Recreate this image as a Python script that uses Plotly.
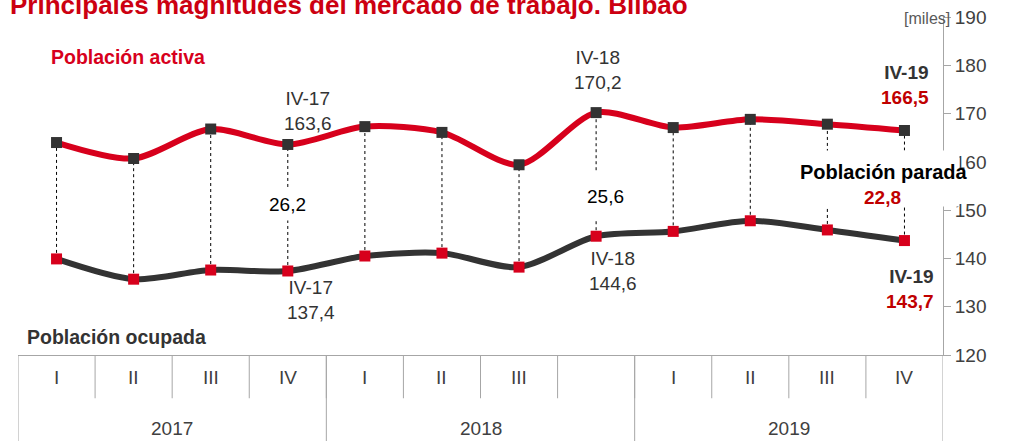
import plotly.graph_objects as go

# datos (miles de personas)
quarters = ["I", "II", "III", "IV", "I", "II", "III", "", "I", "II", "III", "IV"]
years = ["2017", "2018", "2019"]
activa = [164.0, 160.7, 166.8, 163.6, 167.3, 166.1, 159.4, 170.2, 167.1, 168.8, 167.8, 166.5]
ocupada = [139.9, 135.7, 137.6, 137.4, 140.5, 141.1, 138.2, 144.6, 145.6, 147.8, 145.9, 143.7]

FONT = "Liberation Sans Narrow, Arial Narrow, Liberation Sans, Arial, sans-serif"
RED = "#d7001c"
DARK = "#333333"
TXTRED = "#c00000"
GRID = "#a6a6a6"
FS = 19

x = list(range(len(activa)))

fig = go.Figure()

# lineas punteadas entre las dos series
dx, dy = [], []
for i in x:
    dx += [i, i, None]
    dy += [ocupada[i], activa[i], None]
fig.add_trace(go.Scatter(x=dx, y=dy, mode="lines", hoverinfo="skip",
                         line=dict(color="black", width=1, dash="dot"), showlegend=False))

fig.add_trace(go.Scatter(
    x=x, y=activa, mode="lines+markers", name="Población activa",
    line=dict(color=RED, width=6, shape="spline", smoothing=0.8),
    marker=dict(symbol="square", size=11, color=DARK)
))
fig.add_trace(go.Scatter(
    x=x, y=ocupada, mode="lines+markers", name="Población ocupada",
    line=dict(color=DARK, width=6, shape="spline", smoothing=0.8),
    marker=dict(symbol="square", size=11, color=RED)
))

ann = []
def txt(text, **kw):
    d = dict(text=text, showarrow=False, font=dict(family=FONT, size=FS, color=DARK))
    d.update(kw)
    ann.append(d)

def num(v):
    return f"{v:.1f}".replace(".", ",")

# titulos
txt("<b>Principales magnitudes del mercado de trabajo. Bilbao</b>", xref="paper", yref="paper",
    x=0, xshift=-10, y=1, yshift=12, xanchor="left", yanchor="middle",
    font=dict(family=FONT, size=26, color="#cc0011"))
txt("<b>Población activa</b>", xref="paper", yref="paper", x=0, xshift=31, y=1, yshift=-40,
    xanchor="left", yanchor="middle", font=dict(family=FONT, size=19.5, color=RED))
txt("<b>Población ocupada</b>", xref="paper", yref="paper", x=0, xshift=7, y=0, yshift=18,
    xanchor="left", yanchor="middle", font=dict(family=FONT, size=19.5, color=DARK))
txt("[miles]", xref="paper", yref="paper", x=1, xshift=9, y=1, yshift=-1,
    xanchor="right", yanchor="middle", font=dict(family=FONT, size=16, color="#595959"))

# etiquetas de puntos
txt(f"IV-17<br>{num(activa[3])}", x=3, y=activa[3], xshift=20, yshift=8, yanchor="bottom")
txt(f"IV-17<br>{num(ocupada[3])}", x=3, y=ocupada[3], xshift=23, yshift=-4, yanchor="top")
txt(f"IV-18<br>{num(activa[7])}", x=7, y=activa[7], xshift=2, yshift=18, yanchor="bottom")
txt(f"IV-18<br>{num(ocupada[7])}", x=7, y=ocupada[7], xshift=17, yshift=-10, yanchor="top")
txt(f"<b>IV-19</b><br><b><span style='color:{TXTRED}'>{num(activa[11])}</span></b>",
    x=11, y=activa[11], xshift=27, yshift=20, xanchor="right", yanchor="bottom", align="right")
txt(f"<b>IV-19</b><br><b><span style='color:{TXTRED}'>{num(ocupada[11])}</span></b>",
    x=11, y=ocupada[11], xshift=32, yshift=-23, xanchor="right", yanchor="top", align="right")

# poblacion parada
mid3 = (activa[3] + ocupada[3]) / 2
mid7 = (activa[7] + ocupada[7]) / 2
mid11 = (activa[11] + ocupada[11]) / 2
txt(num(activa[3] - ocupada[3]), x=3, y=mid3, yshift=3,
    bgcolor="white", borderpad=5, font=dict(family=FONT, size=FS, color="black"))
txt(num(activa[7] - ocupada[7]), x=7, y=mid7, xshift=9, yshift=-22,
    bgcolor="white", height=46, font=dict(family=FONT, size=FS, color="black"))
txt(" ", x=11, y=mid11, xshift=-25, yshift=7, bgcolor="white", width=158, height=53)
txt("<b>Población parada</b>", x=11, y=mid11, xshift=-20, yshift=14,
    font=dict(family=FONT, size=20, color="black"))
txt(f"<b>{num(activa[11] - ocupada[11])}</b>", x=11, y=mid11, xshift=-1, yshift=-12,
    xanchor="right", font=dict(family=FONT, size=FS, color=TXTRED))

# ejes de categorias
for i, q in enumerate(quarters):
    txt(q, x=i, yref="paper", y=0, yshift=-22, yanchor="middle",
        font=dict(family=FONT, size=FS, color="#404040"))
for k, yr in enumerate(years):
    txt(yr, x=4 * k + 1.5, yref="paper", y=0, yshift=-73, yanchor="middle",
        font=dict(family=FONT, size=FS, color="#404040"))

shapes = []
for i in range(len(quarters) - 1):
    shapes.append(dict(type="line", xref="x", yref="paper", x0=i + 0.5, x1=i + 0.5,
                       y0=0, y1=-0.128, line=dict(color=GRID, width=1)))
for b in [-0.5, 3.5, 7.5, 11.5]:
    shapes.append(dict(type="line", xref="x", yref="paper", x0=b, x1=b,
                       y0=0, y1=-0.3, line=dict(color=GRID, width=1)))

fig.update_layout(
    width=1011, height=441,
    margin=dict(l=18, r=68, t=17, b=86),
    plot_bgcolor="white", paper_bgcolor="white",
    showlegend=False,
    font=dict(family=FONT),
    annotations=ann,
    shapes=shapes,
    xaxis=dict(range=[-0.5, 11.5], showgrid=False, zeroline=False, showticklabels=False,
               ticks="", showline=True, linecolor=GRID, linewidth=1, automargin=False),
    yaxis=dict(range=[120, 190], dtick=10, side="right", showgrid=False, zeroline=False,
               showline=True, linecolor=GRID, linewidth=1, ticks="outside", ticklen=7,
               tickcolor=GRID, automargin=False,
               tickfont=dict(family=FONT, size=FS, color="#404040")),
)

fig.write_html("out.html", config={"displayModeBar": False},
               post_script="document.body.style.margin='0';")
